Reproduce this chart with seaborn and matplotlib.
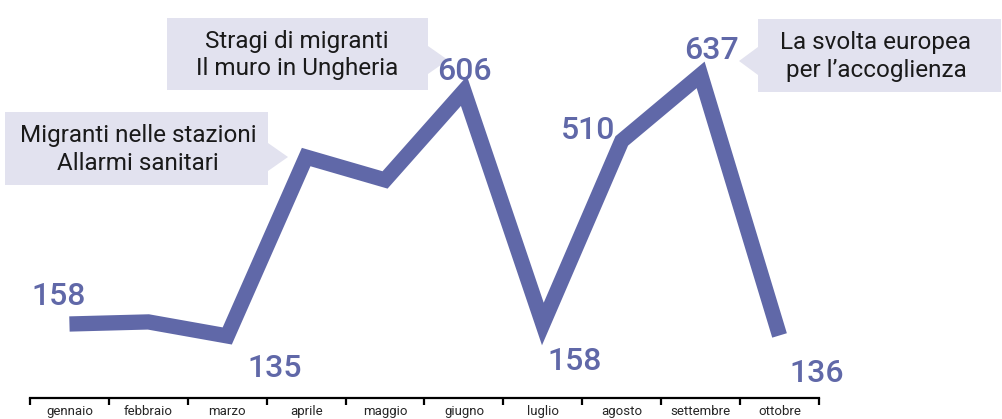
import matplotlib
matplotlib.use("Agg")
import matplotlib.pyplot as plt
from matplotlib.patches import Polygon
from matplotlib.ticker import FixedLocator
import seaborn as sns

months = ["gennaio", "febbraio", "marzo", "aprile", "maggio",
          "giugno", "luglio", "agosto", "settembre", "ottobre"]
arrivals = [158, 162, 135, 479, 435, 606, 158, 510, 637, 136]
labelled = {"gennaio": 158, "marzo": 135, "giugno": 606, "luglio": 158,
            "agosto": 510, "settembre": 637, "ottobre": 136}

notes = [
    ("Migranti nelle stazioni\nAllarmi sanitari", "right"),
    ("Stragi di migranti\nIl muro in Ungheria", "right"),
    ("La svolta europea\nper l\u2019accoglienza", "left"),
]

LINE = "#6068a8"
BOX = "#e2e2ef"

sns.set_style("white")
plt.rcParams["font.family"] = ["Roboto", "DejaVu Sans"]

W, H = 1003, 419
fig = plt.figure(figsize=(W / 100, H / 100), dpi=100)

# overlay in pixel coordinates for callout boxes
bg = fig.add_axes([0, 0, 1, 1])
bg.set_xlim(0, W)
bg.set_ylim(H, 0)
bg.axis("off")

boxes = [
    # (x0, x1, y0, y1, tip_x, tip_y, text_x)
    (5, 268, 112, 185, 288, 157, 138),
    (167, 428, 18, 90, 448, 60, 297),
    (758, 1001, 19, 92, 739, 61, 876),
]
for (txt, side), (x0, x1, y0, y1, tx, ty, cx) in zip(notes, boxes):
    bg.add_patch(Polygon([(x0, y0), (x1, y0), (x1, y1), (x0, y1)],
                         closed=True, color=BOX, lw=0))
    bx = x1 if side == "right" else x0
    bg.add_patch(Polygon([(bx, ty - 14), (tx, ty), (bx, ty + 14)],
                         closed=True, color=BOX, lw=0))
    bg.text(cx, (y0 + y1) / 2 + 1, txt, ha="center", va="center",
            fontsize=17.5, color="#1a1a1a", linespacing=1.25)

ax = fig.add_axes([30 / W, 21 / H, 789 / W, 398 / H])
ax.patch.set_alpha(0)
sns.lineplot(x=months, y=arrivals, sort=False, ax=ax, color=LINE,
             linewidth=11, solid_joinstyle="miter", solid_capstyle="butt")

ax.set_xlim(-0.5, len(months) - 0.5)
ax.set_ylim(15.7, 781)
ax.set_xlabel("")
ax.set_ylabel("")
ax.set_yticks([])
for s in ["left", "right", "top"]:
    ax.spines[s].set_visible(False)
ax.spines["bottom"].set_linewidth(1.6)
ax.spines["bottom"].set_color("black")

ax.set_xticks(range(len(months)))
ax.set_xticklabels(months, fontsize=9.5)
ax.tick_params(axis="x", which="major", bottom=True, length=0, pad=5)
ax.xaxis.set_minor_locator(FixedLocator([i - 0.5 for i in range(len(months) + 1)]))
ax.tick_params(axis="x", which="minor", bottom=True, length=5, width=1.6,
               direction="out", color="black")

# offsets of value labels in pixels (dx right, dy up)
offsets = {"gennaio": (-11, 27), "marzo": (47, -33), "giugno": (0, 20),
           "luglio": (32, -38), "agosto": (-34, 10), "settembre": (11, 24),
           "ottobre": (37, -38)}
for m, v in labelled.items():
    dx, dy = offsets[m]
    ax.annotate(str(v), (months.index(m), v), xytext=(dx * 0.72, dy * 0.72),
                textcoords="offset points", ha="center", va="center",
                fontsize=23, fontweight="medium", color=LINE)

fig.savefig("out.png", dpi=100)
